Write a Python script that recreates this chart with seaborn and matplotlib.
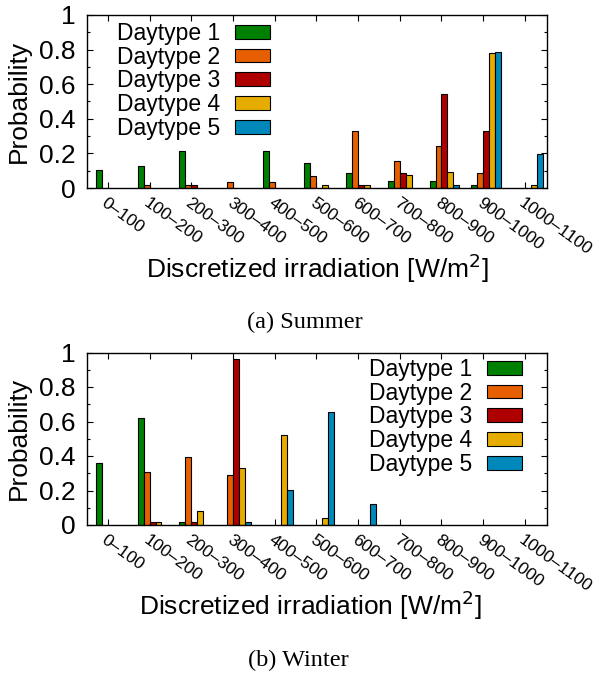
import numpy as np
import pandas as pd
import matplotlib
matplotlib.use("Agg")
import matplotlib.pyplot as plt
import seaborn as sns

# Irradiation bins (W/m^2)
bins = ["0–100", "100–200", "200–300", "300–400", "400–500", "500–600",
        "600–700", "700–800", "800–900", "900–1000", "1000–1100"]
daytypes = ["Daytype 1", "Daytype 2", "Daytype 3", "Daytype 4", "Daytype 5"]

# Summer probabilities per daytype
summer_d1 = [0.105, 0.127, 0.212, 0.0, 0.212, 0.147, 0.085, 0.042, 0.042, 0.019, 0.0]
summer_d2 = [0.0, 0.019, 0.015, 0.033, 0.035, 0.070, 0.332, 0.158, 0.245, 0.085, 0.0]
summer_d3 = [0.0, 0.0, 0.015, 0.0, 0.0, 0.0, 0.015, 0.085, 0.542, 0.332, 0.0]
summer_d4 = [0.0, 0.0, 0.0, 0.0, 0.0, 0.019, 0.017, 0.073, 0.091, 0.778, 0.017]
summer_d5 = [0.0, 0.0, 0.0, 0.0, 0.0, 0.0, 0.0, 0.0, 0.015, 0.784, 0.197]

# Winter probabilities per daytype
winter_d1 = [0.358, 0.619, 0.017, 0.0, 0.0, 0.0, 0.0, 0.0, 0.0, 0.0, 0.0]
winter_d2 = [0.0, 0.309, 0.395, 0.290, 0.0, 0.0, 0.0, 0.0, 0.0, 0.0, 0.0]
winter_d3 = [0.0, 0.019, 0.019, 0.961, 0.0, 0.0, 0.0, 0.0, 0.0, 0.0, 0.0]
winter_d4 = [0.0, 0.019, 0.081, 0.333, 0.520, 0.039, 0.0, 0.0, 0.0, 0.0, 0.0]
winter_d5 = [0.0, 0.0, 0.0, 0.019, 0.201, 0.654, 0.122, 0.0, 0.0, 0.0, 0.0]

colors = ["#008000", "#E65F00", "#AF0000", "#E6AD00", "#0088BA"]

sns.set_theme(style="ticks")
plt.rcParams["font.family"] = ["Liberation Sans", "DejaVu Sans"]
plt.rcParams["axes.linewidth"] = 1.0
for key in ["text.color", "axes.labelcolor", "xtick.color", "ytick.color",
            "axes.edgecolor", "xtick.labelcolor", "ytick.labelcolor"]:
    plt.rcParams[key] = "black"


def long_table(series):
    rows = []
    for name, vals in zip(daytypes, series):
        for b, v in zip(bins, vals):
            if v > 0:
                rows.append({"bin": b, "daytype": name, "prob": v})
    return pd.DataFrame(rows)


fig = plt.figure(figsize=(5.98, 6.77), dpi=100)
W, H = 598.0, 677.0


def panel(rect, series, legend_anchor, xlabel_x):
    ax = fig.add_axes(rect)
    df = long_table(series)
    sns.barplot(data=df, x="bin", y="prob", hue="daytype", order=bins,
                hue_order=daytypes, palette=colors, width=5 / 7, dodge=True,
                edgecolor="black", linewidth=0.8, saturation=1, errorbar=None,
                ax=ax)
    n = len(bins)
    ticks = np.arange(n) - 1 / 14
    ax.set_xlim(-0.5 - 1 / 14, n - 1 - 1 / 14 + 0.53)
    ax.set_ylim(0, 1)
    ax.set_xticks(ticks)
    ax.set_xticklabels(bins, rotation=-36, ha="left", va="top",
                       rotation_mode="anchor", fontsize=12.5)
    ax.set_yticks(np.arange(0, 1.01, 0.2))
    ax.set_yticklabels(["0", "0.2", "0.4", "0.6", "0.8", "1"], fontsize=19)
    ax.set_yticks(np.arange(0.1, 1.0, 0.2), minor=True)
    ax.tick_params(axis="both", which="major", direction="in", length=4.5,
                   width=0.8, top=True, right=True, color="black")
    ax.tick_params(axis="y", which="minor", direction="in", length=2.5,
                   width=0.8, left=True, right=True, color="black")
    ax.tick_params(axis="x", which="major", pad=5)
    ax.tick_params(axis="y", which="major", pad=8)
    for s in ax.spines.values():
        s.set_visible(True)
        s.set_color("black")
        s.set_linewidth(1.0)
    ax.set_ylabel("Probability", fontsize=19)
    ax.yaxis.label.set_va("center")
    ax.yaxis.set_label_coords(-0.148, 0.5)
    ax.set_xlabel("Discretized irradiation [W/m$^2$]", fontsize=19)
    ax.xaxis.label.set_va("center")
    ax.xaxis.set_label_coords(xlabel_x, -0.465)
    handles, labels = ax.get_legend_handles_labels()
    ax.legend(handles, labels, loc="upper left",
              bbox_to_anchor=(legend_anchor[0] / W, 1 - legend_anchor[1] / H),
              bbox_transform=fig.transFigure, frameon=False, fontsize=16.5,
              markerfirst=False, handlelength=1.5, handleheight=0.55,
              handletextpad=0.65, labelspacing=0.03, borderpad=0,
              borderaxespad=0)
    return ax


ax1 = panel([87 / W, 1 - 188 / H, 460 / W, 173 / H],
            [summer_d1, summer_d2, summer_d3, summer_d4, summer_d5],
            (117, 22), 0.5)
ax2 = panel([87 / W, 1 - 525 / H, 460 / W, 172.5 / H],
            [winter_d1, winter_d2, winter_d3, winter_d4, winter_d5],
            (369, 358), 0.485)

fig.text(305 / W, 1 - 322 / H, "(a) Summer", ha="center", va="center",
         fontsize=17.5, family=["Liberation Serif", "DejaVu Serif"])
fig.text(298 / W, 1 - 660 / H, "(b) Winter", ha="center", va="center",
         fontsize=17.5, family=["Liberation Serif", "DejaVu Serif"])

fig.savefig("out.png", dpi=100, facecolor="white")
